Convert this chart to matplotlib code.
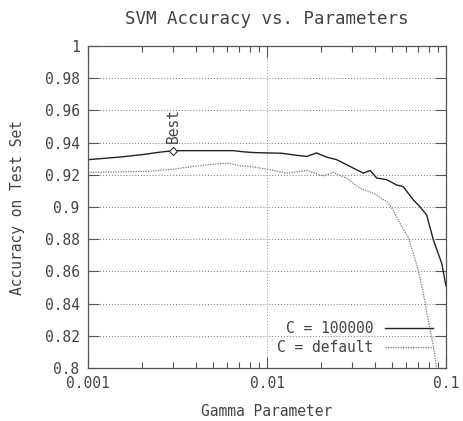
import numpy as np
import matplotlib
matplotlib.use("Agg")
import matplotlib.pyplot as plt

# C = 100000 (solid)
gamma_c1 = [0.001, 0.0015, 0.002, 0.0025, 0.003, 0.004, 0.005, 0.0065, 0.0075, 0.0085,
            0.01, 0.012, 0.0145, 0.0167, 0.0189, 0.0215, 0.0245, 0.0291, 0.0345, 0.0377,
            0.041, 0.0466, 0.0529, 0.0576, 0.0657, 0.0715, 0.078, 0.0851, 0.0947, 0.1]
acc_c1 = [0.9294, 0.931, 0.9325, 0.934, 0.935, 0.935, 0.935, 0.935, 0.9342, 0.9338,
          0.9336, 0.9334, 0.9322, 0.9314, 0.9336, 0.931, 0.9294, 0.9252, 0.921, 0.9227,
          0.918, 0.917, 0.9137, 0.9127, 0.9044, 0.9002, 0.895, 0.8794, 0.8649, 0.851]

# C = default (dotted)
gamma_c2 = [0.001, 0.0015, 0.00213, 0.003, 0.00387, 0.005, 0.00595, 0.00707, 0.00804, 0.0091,
            0.01, 0.0128, 0.0167, 0.0206, 0.0234, 0.0278, 0.033, 0.0392, 0.0466, 0.0507,
            0.0565, 0.0614, 0.0657, 0.0699, 0.0748, 0.0795, 0.0851, 0.0885]
acc_c2 = [0.9215, 0.9218, 0.9221, 0.9235, 0.9252, 0.9265, 0.9273, 0.9256, 0.9252, 0.9242,
          0.9236, 0.921, 0.9227, 0.9194, 0.9215, 0.918, 0.9117, 0.9086, 0.9034, 0.8982,
          0.8878, 0.8815, 0.8712, 0.8608, 0.8463, 0.8297, 0.8133, 0.8008]

best_gamma, best_acc = 0.003, 0.935
y_ticks = [0.8, 0.82, 0.84, 0.86, 0.88, 0.9, 0.92, 0.94, 0.96, 0.98, 1]
y_labels = ["0.8", "0.82", "0.84", "0.86", "0.88", "0.9", "0.92", "0.94", "0.96", "0.98", "1"]
x_ticks = [0.001, 0.01, 0.1]
x_labels = ["0.001", "0.01", "0.1"]

plt.rcParams['font.family'] = ['DejaVu Sans Mono']
plt.rcParams['font.size'] = 10.5
frame = '#555555'
txt = '#444444'

fig = plt.figure(figsize=(4.64, 4.21), dpi=100)
ax = fig.add_axes([0.1897, 0.1259, 0.9612 - 0.1897, 0.8907 - 0.1259])

ax.plot(gamma_c1, acc_c1, color='#222222', lw=1.0, label='C = 100000')
ax.plot(gamma_c2, acc_c2, color='#777777', lw=0.9, ls=(0, (1, 1)), label='C = default')
ax.plot([best_gamma], [best_acc], marker='D', ms=4, mfc='white', mec='#333333', mew=0.8)
ax.text(best_gamma, best_acc + 0.0045, 'Best', rotation=90, ha='center', va='bottom',
        color=txt)

ax.set_xscale('log')
ax.set_xlim(0.001, 0.1)
ax.set_ylim(0.8, 1.0)
ax.set_xticks(x_ticks)
ax.set_xticklabels(x_labels)
ax.set_yticks(y_ticks)
ax.set_yticklabels(y_labels)

ax.tick_params(which='major', direction='in', length=8, width=0.8, color=frame,
               top=True, right=True, pad=6, labelcolor=txt)
ax.tick_params(which='minor', direction='in', length=4, width=0.8, color=frame,
               top=True, right=True)
ax.tick_params(axis='y', which='minor', left=False, right=False)
for s in ax.spines.values():
    s.set_color(frame)
    s.set_linewidth(0.9)

for y in y_ticks[1:-1]:
    ax.axhline(y, color='#777777', lw=0.7, ls=(0, (1, 2)), zorder=0)
ax.axvline(0.01, color='#999999', lw=0.7, ls=(0, (1, 2)), zorder=0)

ax.set_title('SVM Accuracy vs. Parameters', pad=16, color=txt)
ax.set_xlabel('Gamma Parameter', labelpad=9, color=txt)
ax.set_ylabel('Accuracy on Test Set', labelpad=14, color=txt)

leg = ax.legend(loc='lower right', frameon=False, markerfirst=False, handlelength=3.3,
                borderaxespad=0.5, labelspacing=0.25)
for t in leg.get_texts():
    t.set_color(txt)

fig.savefig('out.png', dpi=100)
